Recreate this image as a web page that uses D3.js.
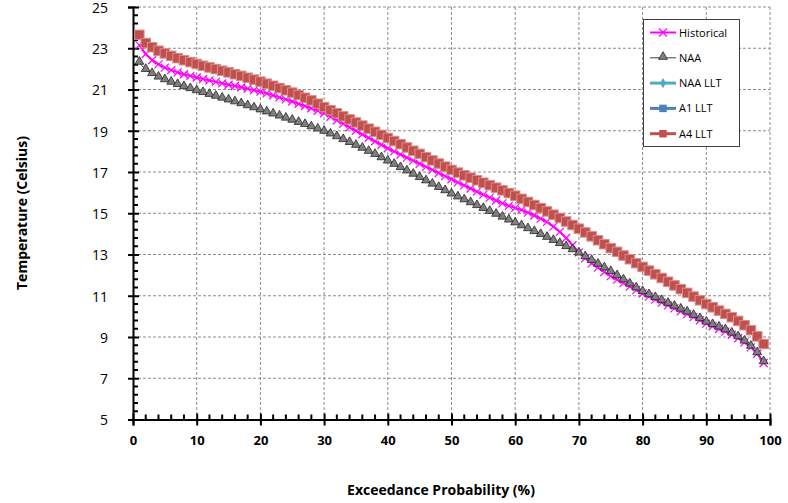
<!DOCTYPE html>
<html>
<head>
<meta charset="utf-8">
<script src="https://cdn.jsdelivr.net/npm/d3@7"></script>
<style>
  body { margin: 0; background: #fff; }
  svg text { font-family: "Open Sans", Lato, sans-serif; fill: #000; }
</style>
</head>
<body>
<div class="chart"></div>
<script>
// exceedance probability (%) for each point
var probability = d3.range(1, 100)
var seriesNames = ["Historical", "NAA", "NAA LLT", "A1 LLT", "A4 LLT"]
var yTicks = [5, 7, 9, 11, 13, 15, 17, 19, 21, 23, 25]
var xTicks = [0, 10, 20, 30, 40, 50, 60, 70, 80, 90, 100]

var historical = [23.15, 22.72, 22.42, 22.22, 22.06, 21.94, 21.83, 21.74, 21.66, 21.58,
  21.51, 21.44, 21.37, 21.30, 21.23, 21.17, 21.11, 21.04, 20.97, 20.90,
  20.81, 20.72, 20.62, 20.52, 20.42, 20.31, 20.20, 20.09, 19.97, 19.85,
  19.68, 19.51, 19.34, 19.17, 19.00, 18.83, 18.66, 18.49, 18.32, 18.15,
  18.00, 17.85, 17.70, 17.55, 17.40, 17.25, 17.10, 16.95, 16.80, 16.65,
  16.50, 16.35, 16.20, 16.05, 15.90, 15.76, 15.62, 15.48, 15.36, 15.26,
  15.16, 15.03, 14.89, 14.74, 14.58, 14.35, 14.10, 13.80, 13.45, 13.10,
  12.82, 12.57, 12.36, 12.15, 11.95, 11.78, 11.61, 11.44, 11.27, 11.11,
  10.96, 10.81, 10.67, 10.53, 10.39, 10.25, 10.11, 9.96, 9.81, 9.65,
  9.52, 9.39, 9.26, 9.11, 8.94, 8.74, 8.50, 8.19, 7.74]

var naa = [22.30, 21.95, 21.75, 21.58, 21.45, 21.33, 21.22, 21.12, 21.02, 20.92,
  20.83, 20.74, 20.65, 20.56, 20.47, 20.38, 20.29, 20.19, 20.09, 19.99,
  19.89, 19.79, 19.69, 19.59, 19.49, 19.38, 19.28, 19.17, 19.06, 18.95,
  18.82, 18.69, 18.55, 18.41, 18.27, 18.13, 17.98, 17.83, 17.67, 17.51,
  17.35, 17.19, 17.03, 16.87, 16.71, 16.55, 16.39, 16.23, 16.07, 15.91,
  15.77, 15.63, 15.49, 15.35, 15.21, 15.07, 14.93, 14.79, 14.65, 14.51,
  14.37, 14.23, 14.09, 13.95, 13.81, 13.66, 13.51, 13.36, 13.21, 13.05,
  12.87, 12.69, 12.51, 12.33, 12.15, 11.95, 11.75, 11.55, 11.36, 11.18,
  11.03, 10.89, 10.75, 10.61, 10.47, 10.33, 10.19, 10.03, 9.87, 9.70,
  9.58, 9.46, 9.33, 9.17, 8.99, 8.78, 8.53, 8.22, 7.78]

var a4Llt = [23.65, 23.25, 23.05, 22.88, 22.75, 22.63, 22.52, 22.42, 22.33, 22.24,
  22.15, 22.07, 21.99, 21.91, 21.83, 21.74, 21.66, 21.57, 21.48, 21.38,
  21.28, 21.18, 21.07, 20.96, 20.85, 20.73, 20.60, 20.47, 20.31, 20.15,
  20.00, 19.85, 19.70, 19.55, 19.40, 19.25, 19.10, 18.95, 18.80, 18.65,
  18.50, 18.35, 18.19, 18.03, 17.88, 17.72, 17.56, 17.41, 17.26, 17.10,
  16.97, 16.84, 16.72, 16.60, 16.48, 16.36, 16.24, 16.11, 15.98, 15.85,
  15.70, 15.55, 15.40, 15.25, 15.09, 14.93, 14.77, 14.60, 14.43, 14.25,
  14.07, 13.88, 13.69, 13.50, 13.31, 13.13, 12.95, 12.77, 12.58, 12.40,
  12.22, 12.04, 11.86, 11.68, 11.50, 11.32, 11.14, 10.96, 10.78, 10.60,
  10.44, 10.28, 10.12, 9.96, 9.78, 9.57, 9.33, 9.03, 8.66]

// the two other LLT runs sit exactly under A4 LLT in the picture
var naaLlt = a4Llt.slice()
var a1Llt = a4Llt.slice()

var width = 788, height = 503
var plot = { left: 133, right: 770, top: 7, bottom: 419.5 }

var svg = d3.select(".chart").append("svg")
    .attr("width", width)
    .attr("height", height)

var x = d3.scaleLinear().domain([0, 100]).range([plot.left, plot.right])
var y = d3.scaleLinear().domain([5, 25]).range([plot.bottom, plot.top])

// grid
svg.append("g").selectAll("line.hgrid")
    .data(yTicks.filter(d => d > 5))
    .enter().append("line")
    .attr("x1", plot.left).attr("x2", plot.right)
    .attr("y1", d => y(d)).attr("y2", d => y(d))
    .style("stroke", "#8c8c8c")
    .style("stroke-width", 1)
    .style("stroke-dasharray", "3,2")
svg.append("g").selectAll("line.vgrid")
    .data(xTicks.filter(d => d > 0))
    .enter().append("line")
    .attr("x1", d => x(d)).attr("x2", d => x(d))
    .attr("y1", plot.top).attr("y2", plot.bottom)
    .style("stroke", "#8c8c8c")
    .style("stroke-width", 1)
    .style("stroke-dasharray", "3,2")

// minor ticks (inside)
var yMinor = d3.range(5, 25.01, 0.4).filter(d => Math.abs((d - 5) % 2) > 0.01 && Math.abs((d - 5) % 2 - 2) > 0.01)
var xMinor = d3.range(0, 101, 2).filter(d => d % 10 != 0)
svg.append("g").selectAll("line")
    .data(yMinor).enter().append("line")
    .attr("x1", plot.left).attr("x2", plot.left + 5)
    .attr("y1", d => y(d)).attr("y2", d => y(d))
    .style("stroke", "#000").style("stroke-width", 2)
svg.append("g").selectAll("line")
    .data(xMinor).enter().append("line")
    .attr("x1", d => x(d)).attr("x2", d => x(d))
    .attr("y1", plot.bottom).attr("y2", plot.bottom - 5)
    .style("stroke", "#000").style("stroke-width", 2)

// axes
var yAxis = d3.axisLeft(y).tickValues(yTicks).tickSize(5).tickPadding(20)
var gy = svg.append("g")
    .attr("transform", "translate(" + plot.left + ",0)")
    .call(yAxis)
gy.select(".domain").style("stroke", "#000").style("stroke-width", 2)
gy.selectAll(".tick line").attr("x1", 6).style("stroke", "#000").style("stroke-width", 2)
gy.selectAll(".tick text")
    .attr("dy", "0.38em")
    .style("font-size", "14px")
    .style("font-family", "'Open Sans', sans-serif")

var xAxis = d3.axisBottom(x).tickValues(xTicks).tickSize(6).tickPadding(10)
var gx = svg.append("g")
    .attr("transform", "translate(0," + plot.bottom + ")")
    .call(xAxis)
gx.select(".domain").style("stroke", "#000").style("stroke-width", 2)
gx.selectAll(".tick line").attr("y1", -6).style("stroke", "#000").style("stroke-width", 2)
gx.selectAll(".tick text")
    .style("font-size", "13px")
    .style("font-weight", "bold")
    .style("font-family", "'Open Sans', sans-serif")

svg.append("text")
    .text("Exceedance Probability (%)")
    .attr("x", 441).attr("y", 495)
    .attr("text-anchor", "middle")
    .style("font-size", "14px")
    .style("font-weight", "bold")
svg.append("text")
    .text("Temperature (Celsius)")
    .attr("transform", "translate(27,213) rotate(-90)")
    .attr("text-anchor", "middle")
    .style("font-size", "14px")
    .style("font-weight", "bold")

// series
var line = d3.line().x(d => x(d[0])).y(d => y(d[1]))
function pts(vals) { return probability.map((p, i) => [p, vals[i]]) }

var tri = d3.symbol().type(d3.symbolTriangle).size(34)
var diamond = d3.symbol().type(d3.symbolDiamond).size(30)

function drawMarker(g, kind, color, cx, cy, big) {
  if (kind == "x") {
    var s = 4
    g.append("path")
      .attr("d", "M" + (cx - s) + "," + (cy - s) + "L" + (cx + s) + "," + (cy + s) +
                 "M" + (cx - s) + "," + (cy + s) + "L" + (cx + s) + "," + (cy - s))
      .style("stroke", color).style("stroke-width", 1.2).style("fill", "none")
  } else if (kind == "tri") {
    g.append("path").attr("d", tri)
      .attr("transform", "translate(" + cx + "," + (cy - 1) + ")")
      .style("fill", "#7f7f7f").style("stroke", "#262626").style("stroke-width", 0.8)
  } else if (kind == "diamond") {
    g.append("path").attr("d", diamond)
      .attr("transform", "translate(" + cx + "," + cy + ")")
      .style("fill", color)
  } else {
    var w = big ? 9.5 : 7.5
    g.append("rect")
      .attr("x", cx - w / 2).attr("y", cy - w / 2)
      .attr("width", w).attr("height", w)
      .style("fill", color)
      .style("stroke", "#d98e8b").style("stroke-width", big ? 1 : 0)
  }
}

var series = [
  { name: seriesNames[2], vals: naaLlt, color: "#4bacc6", width: 3, marker: "diamond" },
  { name: seriesNames[3], vals: a1Llt, color: "#4f81bd", width: 3, marker: "square" },
  { name: seriesNames[0], vals: historical, color: "#ff00ff", width: 2, marker: "x" },
  { name: seriesNames[1], vals: naa, color: "#404040", width: 1, marker: "tri" },
  { name: seriesNames[4], vals: a4Llt, color: "#c0504d", width: 3, marker: "square" }
]

series.forEach(s => {
  var g = svg.append("g")
  g.append("path")
    .attr("d", line(pts(s.vals)))
    .style("fill", "none")
    .style("stroke", s.color)
    .style("stroke-width", s.width)
  pts(s.vals).forEach(p => drawMarker(g, s.marker, s.color, x(p[0]), y(p[1]), s.name == "A4 LLT"))
})

// legend
var legend = svg.append("g")
legend.append("rect")
    .attr("x", 643.5).attr("y", 19.5)
    .attr("width", 96).attr("height", 127)
    .style("fill", "#fff")
    .style("stroke", "#404040")
    .style("stroke-width", 1)
var legendItems = [
  { name: "Historical", color: "#ff00ff", width: 2, marker: "x" },
  { name: "NAA", color: "#404040", width: 1, marker: "tri" },
  { name: "NAA LLT", color: "#4bacc6", width: 3, marker: "diamond" },
  { name: "A1 LLT", color: "#4f81bd", width: 3, marker: "square" },
  { name: "A4 LLT", color: "#c0504d", width: 3, marker: "square" }
]
legendItems.forEach((d, i) => {
  var ly = 32.5 + i * 25.3
  var g = legend.append("g")
  g.append("line")
    .attr("x1", 650).attr("x2", 676)
    .attr("y1", ly).attr("y2", ly)
    .style("stroke", d.color)
    .style("stroke-width", d.width)
  drawMarker(g, d.marker, d.color, 663, ly, false)
  g.append("text")
    .text(d.name)
    .attr("x", 679).attr("y", ly + 4)
    .style("font-size", "11px")
})
</script>
</body>
</html>
